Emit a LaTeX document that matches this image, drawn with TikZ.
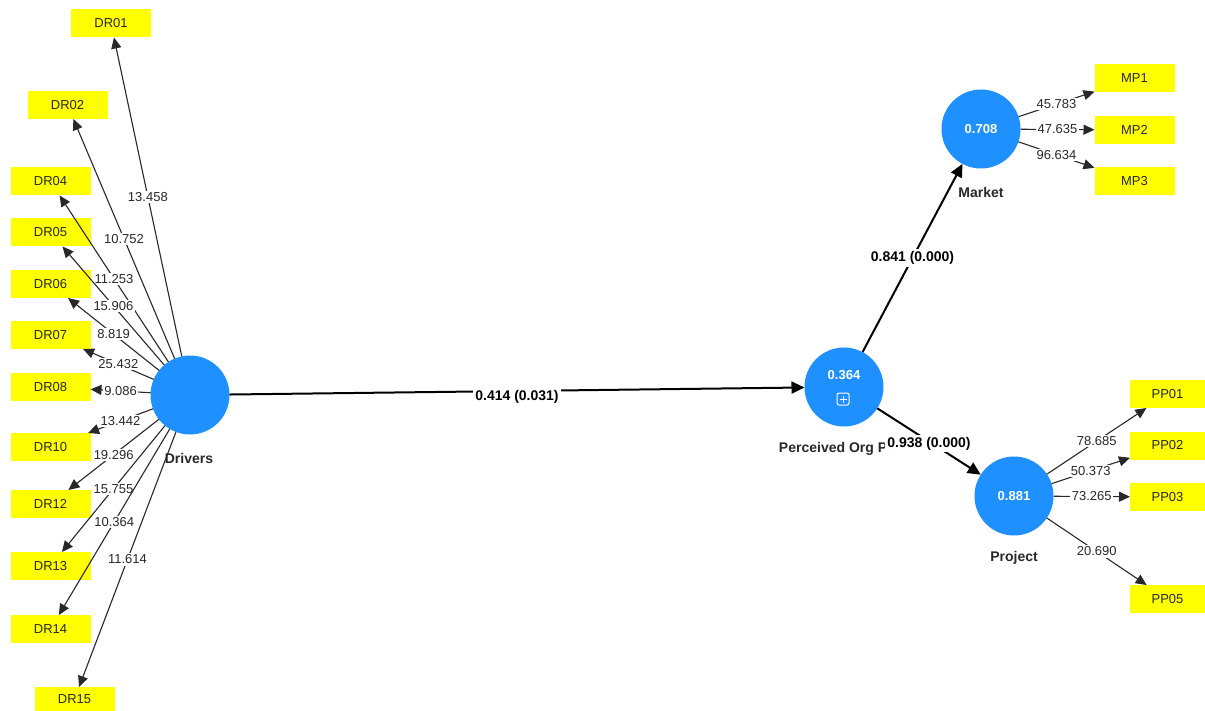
\documentclass[tikz,border=0pt]{standalone}
\usepackage{fontspec}
\setmainfont{Liberation Sans}
\usetikzlibrary{arrows.meta}
\definecolor{plsblue}{RGB}{30,144,255}
\definecolor{ind}{RGB}{255,255,0}
\definecolor{txt}{RGB}{40,40,40}
\begin{document}
\begin{tikzpicture}[x=1pt,y=-1pt,
  lv/.style={circle, fill=plsblue, minimum size=79pt, inner sep=0pt, outer sep=0pt, text=white, font=\fontsize{13}{15}\selectfont\bfseries},
  lvval/.style={inner sep=0pt, text=white, font=\fontsize{13}{15}\selectfont\bfseries},
  mv/.style={rectangle, fill=ind, minimum width=80pt, minimum height=28pt, inner sep=0pt, outer sep=0pt, font=\fontsize{13}{15}\selectfont, text=txt},
  lvname/.style={font=\fontsize{14}{16}\selectfont\bfseries, text=txt, inner sep=1pt},
  outer/.style={draw=txt, line width=1.1pt, -{Triangle[length=11pt,width=10pt]}},
  inner/.style={draw=black, line width=2pt, -{Triangle[length=13pt,width=12pt]}},
  wl/.style={fill=white, inner sep=1.5pt, font=\fontsize{13}{15}\selectfont, text=txt},
  pl/.style={fill=white, inner sep=2pt, font=\fontsize{14}{16}\selectfont\bfseries, text=black},
]
\fill[white] (0,0) rectangle (1205,711);
\useasboundingbox (0,0) rectangle (1205,711);

% latent variables
\node[lv] (drv) at (190,395) {};
\node[lv] (pop) at (844,387) {};
\node[lv] (mkt) at (981,129) {0.708};
\node[lv] (prj) at (1014,496) {0.881};
\node[lvval] (popval) at (844,375) {0.364};
\draw[white, line width=1pt, rounded corners=2pt] (837,393) rectangle (849,405);
\draw[white, line width=1pt] (843,395.5) -- (843,402.5) (839.5,399) -- (846.5,399);

% latent variable names
\node[lvname] (drvname) at (189,458) {Drivers};
\node[lvname] (popname) at (842,449) {Perceived Org Perf};
\node[lvname] (mktname) at (981,192) {Market};
\node[lvname] (prjname) at (1014,558) {Project};

% indicators - Drivers
\node[mv] (dr01) at (111,23.5) {DR01};
\node[mv] (dr02) at (67.5,105) {DR02};
\node[mv] (dr04) at (50.5,181.5) {DR04};
\node[mv] (dr05) at (50.5,232.5) {DR05};
\node[mv] (dr06) at (50.5,284) {DR06};
\node[mv] (dr07) at (50.5,335) {DR07};
\node[mv] (dr08) at (50.5,387) {DR08};
\node[mv] (dr10) at (50.5,447) {DR10};
\node[mv] (dr12) at (50.5,504) {DR12};
\node[mv] (dr13) at (50.5,566) {DR13};
\node[mv] (dr14) at (50.5,629) {DR14};
\node[mv, minimum height=24pt] (dr15) at (74.5,699) {DR15};

% indicators - Market
\node[mv] (mp1) at (1134.5,78.5) {MP1};
\node[mv] (mp2) at (1134.5,130) {MP2};
\node[mv] (mp3) at (1134.5,181.5) {MP3};

% indicators - Project
\node[mv, minimum width=75pt] (pp01) at (1167.5,394) {PP01};
\node[mv, minimum width=75pt] (pp02) at (1167.5,445.5) {PP02};
\node[mv, minimum width=75pt] (pp03) at (1167.5,497) {PP03};
\node[mv, minimum width=75pt] (pp05) at (1167.5,599) {PP05};

% outer model - Drivers
\draw[outer] (drv) -- node[wl] {13.458} (dr01);
\draw[outer] (drv) -- node[wl] {10.752} (dr02);
\draw[outer] (drv) -- node[wl] {11.253} (dr04);
\draw[outer] (drv) -- node[wl] {15.906} (dr05);
\draw[outer] (drv) -- node[wl] {8.819} (dr06);
\draw[outer] (drv) -- node[wl] {25.432} (dr07);
\draw[outer] (drv) -- node[wl] {9.086} (dr08);
\draw[outer] (drv) -- node[wl] {13.442} (dr10);
\draw[outer] (drv) -- node[wl] {19.296} (dr12);
\draw[outer] (drv) -- node[wl] {15.755} (dr13);
\draw[outer] (drv) -- node[wl] {10.364} (dr14);
\draw[outer] (drv) -- node[wl] {11.614} (dr15);

% outer model - Market
\draw[outer] (mkt) -- node[wl] {45.783} (mp1);
\draw[outer] (mkt) -- node[wl] {47.635} (mp2);
\draw[outer] (mkt) -- node[wl] {96.634} (mp3);

% outer model - Project
\draw[outer] (prj) -- node[wl] {78.685} (pp01);
\draw[outer] (prj) -- node[wl] {50.373} (pp02);
\draw[outer] (prj) -- node[wl] {73.265} (pp03);
\draw[outer] (prj) -- node[wl] {20.690} (pp05);

% inner model
\draw[inner] (drv) -- node[pl, yshift=-6pt] {0.414 (0.031)} (pop);
\draw[inner] (pop) -- node[pl] {0.841 (0.000)} (mkt);
\draw[inner] (pop) -- node[pl, yshift=-2pt] {0.938 (0.000)} (prj);
\end{tikzpicture}
\end{document}
